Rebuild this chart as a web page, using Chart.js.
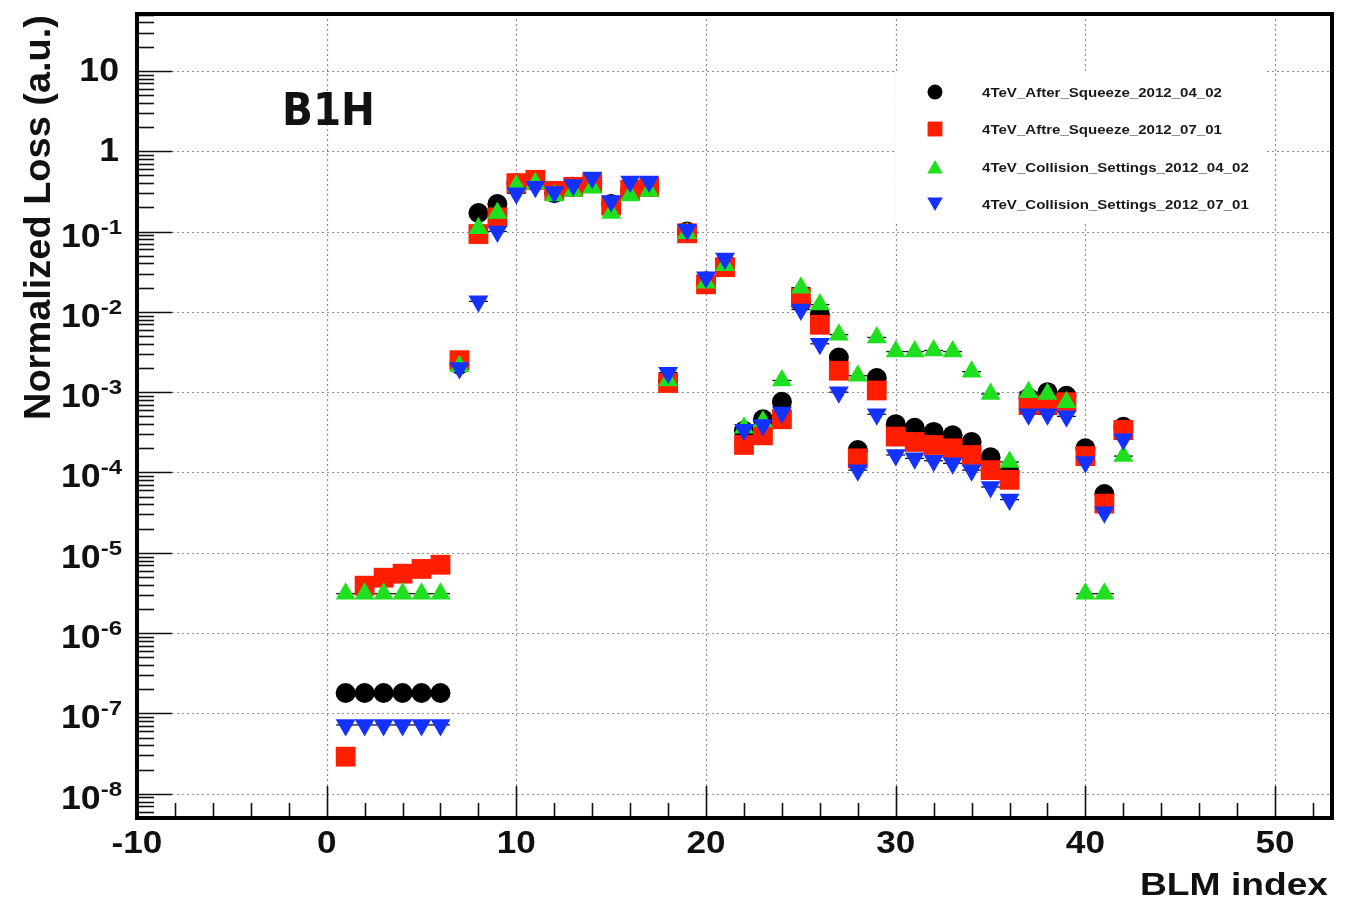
<!DOCTYPE html>
<html>
<head>
<meta charset="utf-8">
<title>B1H normalized loss</title>
<script src="https://cdn.jsdelivr.net/npm/chart.js@4.4.1/dist/chart.umd.min.js"></script>
<style>
  html, body { margin: 0; padding: 0; background: #fff; }
  #wrap { width: 1356px; height: 902px; }
</style>
</head>
<body>
<div id="wrap"><canvas id="blm" width="1356" height="902"></canvas></div>
<script>
// BLM index 1..42
const blmIndex = [1, 2, 3, 4, 5, 6, 7, 8, 9, 10, 11, 12, 13, 14, 15, 16, 17, 18, 19, 20, 21,
                  22, 23, 24, 25, 26, 27, 28, 29, 30, 31, 32, 33, 34, 35, 36, 37, 38, 39, 40, 41, 42];

const afterSqueeze0402 = [1.8e-7, 1.8e-7, 1.8e-7, 1.8e-7, 1.8e-7, 1.8e-7, 2.2e-3, 0.17, 0.22, 0.40,
  0.42, 0.30, 0.36, 0.40, 0.22, 0.32, 0.36, 1.4e-3, 0.10, 0.024, 0.040,
  3.3e-4, 4.6e-4, 7.6e-4, 0.013, 0.0094, 2.7e-3, 1.9e-4, 1.5e-3, 4.0e-4, 3.6e-4,
  3.2e-4, 2.9e-4, 2.4e-4, 1.55e-4, 1.0e-4, 8.5e-4, 1.0e-3, 9.0e-4, 2.0e-4, 5.4e-5, 3.7e-4];

const aftreSqueeze0701 = [2.9e-8, 3.9e-6, 4.9e-6, 5.5e-6, 6.3e-6, 7.1e-6, 2.5e-3, 0.093, 0.15, 0.40,
  0.44, 0.32, 0.36, 0.40, 0.21, 0.33, 0.36, 1.3e-3, 0.095, 0.022, 0.036,
  2.2e-4, 2.9e-4, 4.6e-4, 0.015, 0.0069, 1.85e-3, 1.5e-4, 1.05e-3, 2.8e-4, 2.4e-4,
  2.2e-4, 2.0e-4, 1.65e-4, 1.07e-4, 8.1e-5, 6.9e-4, 7.0e-4, 7.5e-4, 1.6e-4, 4.1e-5, 3.4e-4];

const collision0402 = [3.1e-6, 3.1e-6, 3.1e-6, 3.1e-6, 3.1e-6, 3.1e-6, 2.1e-3, 0.11, 0.17, 0.37,
  0.40, 0.28, 0.32, 0.35, 0.17, 0.28, 0.32, 1.4e-3, 0.095, 0.023, 0.038,
  3.6e-4, 4.3e-4, 1.4e-3, 0.020, 0.0123, 5.2e-3, 1.6e-3, 4.8e-3, 3.2e-3, 3.2e-3,
  3.3e-3, 3.2e-3, 1.8e-3, 9.5e-4, 1.35e-4, 1.0e-3, 9.5e-4, 7.5e-4, 3.1e-6, 3.1e-6, 1.6e-4];

const collision0701 = [7.2e-8, 7.2e-8, 7.2e-8, 7.2e-8, 7.2e-8, 7.2e-8, 2.0e-3, 0.0135, 0.10, 0.30,
  0.36, 0.31, 0.38, 0.47, 0.24, 0.42, 0.42, 1.75e-3, 0.105, 0.027, 0.046,
  3.4e-4, 3.9e-4, 5.6e-4, 0.0107, 0.0040, 1.0e-3, 1.07e-4, 5.3e-4, 1.65e-4, 1.5e-4,
  1.4e-4, 1.3e-4, 1.07e-4, 6.6e-5, 4.6e-5, 5.3e-4, 5.3e-4, 5.0e-4, 1.35e-4, 3.2e-5, 2.6e-4];

const seriesNames = ['4TeV_After_Squeeze_2012_04_02', '4TeV_Aftre_Squeeze_2012_07_01',
                     '4TeV_Collision_Settings_2012_04_02', '4TeV_Collision_Settings_2012_07_01'];

const xTicks = [-10, 0, 10, 20, 30, 40, 50];
const xTickLabels = ['-10', '0', '10', '20', '30', '40', '50'];
const yTicks = [1e-8, 1e-7, 1e-6, 1e-5, 1e-4, 1e-3, 1e-2, 1e-1, 1, 10];
const yTickLabels = [['10', '-8'], ['10', '-7'], ['10', '-6'], ['10', '-5'], ['10', '-4'],
                     ['10', '-3'], ['10', '-2'], ['10', '-1'], ['1', ''], ['10', '']];

const FONT = '"Liberation Sans", Arial, Helvetica, sans-serif';

function pts(vals) {
  return blmIndex.map((x, i) => ({ x: x, y: vals[i] }));
}

// draw text stretched horizontally by sx (the reference text is a bit wide)
function drawText(ctx, text, x, y, font, align, sx) {
  ctx.save();
  ctx.font = font;
  const w = ctx.measureText(text).width * sx;
  let left = x;
  if (align === 'right') left = x - w;
  if (align === 'center') left = x - w / 2;
  ctx.translate(left, y);
  ctx.scale(sx, 1);
  ctx.textAlign = 'left';
  ctx.textBaseline = 'alphabetic';
  ctx.fillText(text, 0, 0);
  ctx.restore();
  return w;
}

const markers = [
  { style: 'circle', radius: 10, rot: 0, legendR: 7.5 },
  { style: 'rect', radius: 14, rot: 0, legendR: 10.5 },
  { style: 'triangle', radius: 11.5, rot: 0, legendR: 9 },
  { style: 'triangle', radius: 11.5, rot: 180, legendR: 9 }
];
const colors = ['#000000', '#ff1e00', '#1ee01e', '#1432ff'];

const rootStyle = {
  id: 'rootStyle',
  beforeDatasetsDraw(chart) {
    const { ctx, chartArea: a, scales: { x, y } } = chart;
    ctx.save();
    // dotted grid at major ticks
    ctx.strokeStyle = '#8f8f8f';
    ctx.lineWidth = 1.2;
    ctx.setLineDash([2, 3]);
    xTicks.forEach(v => {
      const px = Math.round(x.getPixelForValue(v)) + 0.5;
      ctx.beginPath(); ctx.moveTo(px, a.top); ctx.lineTo(px, a.bottom); ctx.stroke();
    });
    yTicks.forEach(v => {
      const py = Math.round(y.getPixelForValue(v)) + 0.5;
      ctx.beginPath(); ctx.moveTo(a.left, py); ctx.lineTo(a.right, py); ctx.stroke();
    });
    ctx.setLineDash([]);
    // x error bars (+-0.5) under the markers
    ctx.strokeStyle = '#111';
    ctx.lineWidth = 1.3;
    chart.data.datasets.forEach(ds => {
      ds.data.forEach(p => {
        const py = y.getPixelForValue(p.y);
        ctx.beginPath();
        ctx.moveTo(x.getPixelForValue(p.x - 0.5), py);
        ctx.lineTo(x.getPixelForValue(p.x + 0.5), py);
        ctx.stroke();
      });
    });
    ctx.restore();
  },
  afterDatasetsDraw(chart) {
    const { ctx, chartArea: a, scales: { x, y } } = chart;
    ctx.save();
    ctx.fillStyle = '#111';
    ctx.strokeStyle = '#111';

    // ticks inside the frame
    ctx.lineWidth = 1.6;
    for (let e = -9; e <= 1; e++) {
      for (let k = 1; k <= 9; k++) {
        const v = k * Math.pow(10, e);
        if (v < y.min || v > y.max) continue;
        const py = Math.round(y.getPixelForValue(v)) + 0.5;
        const len = k === 1 ? 35 : 17;
        ctx.beginPath(); ctx.moveTo(a.left, py); ctx.lineTo(a.left + len, py); ctx.stroke();
      }
    }
    for (let v = -8; v <= 52; v += 2) {
      const px = Math.round(x.getPixelForValue(v)) + 0.5;
      const len = v % 10 === 0 ? 32 : 15;
      ctx.beginPath(); ctx.moveTo(px, a.bottom); ctx.lineTo(px, a.bottom - len); ctx.stroke();
    }

    // frame
    ctx.lineWidth = 4;
    ctx.strokeStyle = '#000';
    ctx.strokeRect(a.left, a.top, a.right - a.left, a.bottom - a.top);

    // x tick labels
    ctx.fillStyle = '#111';
    xTicks.forEach((v, i) => {
      drawText(ctx, xTickLabels[i], x.getPixelForValue(v), a.bottom + 35, 'bold 32px ' + FONT, 'center', 1.1);
    });

    // y tick labels 10^n
    yTicks.forEach((v, i) => {
      const [base, exp] = yTickLabels[i];
      const py = y.getPixelForValue(v);
      let right = 122;
      if (exp) {
        const w = drawText(ctx, exp, right, py + 2, 'bold 20px ' + FONT, 'right', 1.2);
        right -= w;
        drawText(ctx, base, right, py + 15, 'bold 33px ' + FONT, 'right', 1.08);
      } else {
        drawText(ctx, base, 119, py + 10, 'bold 33px ' + FONT, 'right', 1.08);
      }
    });

    // axis titles
    ctx.save();
    ctx.font = 'bold 36px ' + FONT;
    const yt = 'Normalized Loss (a.u.)';
    const ysx = 405 / ctx.measureText(yt).width;
    ctx.translate(50, 420);
    ctx.rotate(-Math.PI / 2);
    ctx.scale(ysx, 1);
    ctx.textAlign = 'left';
    ctx.textBaseline = 'alphabetic';
    ctx.fillText(yt, 0, 0);
    ctx.restore();

    ctx.save();
    ctx.font = 'bold 32px ' + FONT;
    const xt = 'BLM index';
    drawText(ctx, xt, 1328, 895, 'bold 32px ' + FONT, 'right', 188 / ctx.measureText(xt).width);
    ctx.restore();

    // B1H label
    ctx.save();
    ctx.font = 'bold 44px "DejaVu Sans", Verdana, sans-serif';
    drawText(ctx, 'B1H', 282, 125, 'bold 44px "DejaVu Sans", Verdana, sans-serif', 'left',
             93 / ctx.measureText('B1H').width);
    ctx.restore();

    // legend box (white, no border)
    ctx.fillStyle = '#fff';
    ctx.fillRect(896, 71, 370, 152);
    const rowsY = [92, 129, 167, 204];
    ctx.font = 'bold 13px ' + FONT;
    const lsx = 240 / ctx.measureText(seriesNames[0]).width;
    seriesNames.forEach((name, i) => {
      const m = markers[i];
      ctx.fillStyle = colors[i];
      Chart.helpers.drawPoint(ctx, { pointStyle: m.style, radius: m.legendR, rotation: m.rot, borderWidth: 0 },
                              935, rowsY[i] + (m.style === 'triangle' ? (m.rot ? -2 : 2) : 0));
      ctx.fillStyle = '#1a1a1a';
      drawText(ctx, name, 982, rowsY[i] + 5, 'bold 13px ' + FONT, 'left', lsx);
    });
    ctx.restore();
  }
};

const seriesValues = [afterSqueeze0402, aftreSqueeze0701, collision0402, collision0701];

new Chart(document.getElementById('blm'), {
  type: 'scatter',
  data: {
    datasets: seriesValues.map((vals, i) => ({
      label: seriesNames[i],
      data: pts(vals),
      order: 4 - i,
      pointStyle: markers[i].style,
      pointRotation: markers[i].rot,
      pointRadius: markers[i].radius,
      pointHoverRadius: markers[i].radius,
      pointBackgroundColor: colors[i],
      pointBorderColor: colors[i],
      pointBorderWidth: 0,
      showLine: false
    }))
  },
  options: {
    responsive: false,
    animation: false,
    devicePixelRatio: 1,
    layout: { padding: { top: 11, right: 24, left: 0, bottom: 0 } },
    plugins: { legend: { display: false }, tooltip: { enabled: false } },
    scales: {
      x: {
        type: 'linear', min: -10, max: 53,
        grid: { display: false }, border: { display: false },
        ticks: { display: false },
        afterBuildTicks(s) { s.ticks = xTicks.map(v => ({ value: v })); },
        afterFit(s) { s.height = 84; }
      },
      y: {
        type: 'logarithmic', min: 5e-9, max: 51,
        grid: { display: false }, border: { display: false },
        ticks: { display: false },
        afterBuildTicks(s) { s.ticks = yTicks.map(v => ({ value: v })); },
        afterFit(s) { s.width = 137; }
      }
    }
  },
  plugins: [rootStyle]
});
</script>
</body>
</html>
